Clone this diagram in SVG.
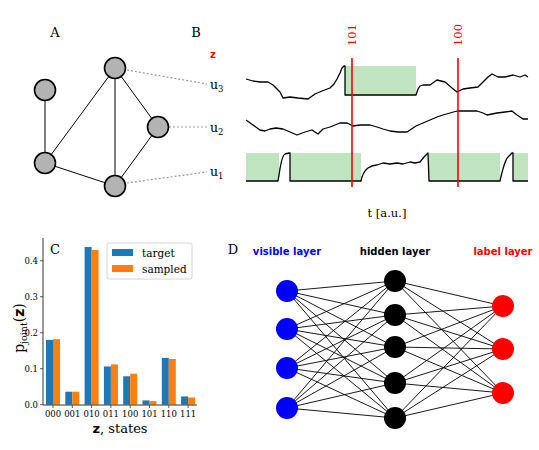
<svg xmlns="http://www.w3.org/2000/svg" width="539" height="450" viewBox="0 0 539 450">
<style>
.serif{font-family:"DejaVu Serif","Liberation Serif",serif;fill:#000}
.sans{font-family:"DejaVu Sans","Liberation Sans",sans-serif;font-weight:bold}
.gnode{fill:#b3b3b3;stroke:#000;stroke-width:1.6}
.edge{stroke:#000;stroke-width:1;fill:none}
.dash{stroke:#999;stroke-width:1.2;stroke-dasharray:2,2;fill:none}
.trace{stroke:#000;stroke-width:1.3;fill:none;stroke-linejoin:round}
.box{fill:#c0e3c0}
.red{stroke:#ff0000;stroke-width:1.6}
.blue{fill:#1f77b4}
.orange{fill:#ff7f0e}
.tick{font-size:8.5px}
</style>
<rect width="539" height="450" fill="#fff"/>

<!-- Panel A -->
<text class="serif" x="55" y="37" font-size="13" text-anchor="middle" fill="#000">A</text>
<g id="connectors">
  <line class="edge" x1="45" y1="90" x2="45" y2="163"/>
  <line class="edge" x1="45" y1="163" x2="115" y2="68"/>
  <line class="edge" x1="45" y1="163" x2="115" y2="186"/>
  <line class="edge" x1="115" y1="68" x2="115" y2="186"/>
  <line class="edge" x1="115" y1="68" x2="158" y2="127"/>
  <line class="edge" x1="158" y1="127" x2="115" y2="186"/>
  <line class="dash" x1="127" y1="70" x2="207" y2="84"/>
  <line class="dash" x1="169" y1="127" x2="207" y2="127"/>
  <line class="dash" x1="127" y1="183" x2="207" y2="172"/>
</g>
<g id="nodeA1"><circle class="gnode" cx="45" cy="90" r="10.5"/></g>
<g id="nodeA2"><circle class="gnode" cx="45" cy="163" r="10.5"/></g>
<g id="nodeA3"><circle class="gnode" cx="115" cy="68" r="10.5"/></g>
<g id="nodeA4"><circle class="gnode" cx="158" cy="127" r="10.5"/></g>
<g id="nodeA5"><circle class="gnode" cx="115" cy="186" r="10.5"/></g>

<!-- Panel B -->
<text class="serif" x="196" y="37" font-size="13" text-anchor="middle" fill="#000">B</text>
<text class="sans" x="213" y="58" font-size="10" fill="#ff0000" text-anchor="middle">z</text>
<text class="serif" x="210" y="89" font-size="12.5" fill="#000">u<tspan font-size="8.5" dy="3">3</tspan></text>
<text class="serif" x="210" y="132" font-size="12.5" fill="#000">u<tspan font-size="8.5" dy="3">2</tspan></text>
<text class="serif" x="210" y="176" font-size="12.5" fill="#000">u<tspan font-size="8.5" dy="3">1</tspan></text>

<g id="boxes">
  <rect class="box" x="345" y="66" width="71" height="29"/>
  <rect class="box" x="246" y="153" width="33" height="28"/>
  <rect class="box" x="290" y="153" width="71" height="28"/>
  <rect class="box" x="429" y="153" width="71" height="28"/>
  <rect class="box" x="513" y="153" width="15" height="28"/>
</g>
<g id="traces">
  <polyline class="trace" points="246,79 253,81 260,82 268,82 273,85 280,92 283,98 290,97 298,98 308,99 315,94 322,91 330,88 334,84 337,79 340,73 342,68 344,66 345,66 345,95 416,95 418,89 420,86 423,85 430,85 437,80 445,82 452,88 457,92 463,89 470,88 478,87 483,82 488,77 492,74 498,77 505,77 513,75 520,77 525,75 528,77"/>
  <polyline class="trace" points="246,120 253,125 260,130 265,131 270,129 276,128 283,129 290,132 297,135 305,132 312,130 318,134 323,129 330,127 340,123 347,123 353,126 360,125 370,125 377,127 383,129 390,131 398,132 407,132 410,130 416,126 423,123 430,120 437,117 443,115 450,113 457,111 467,111 477,111 483,113 487,115 492,114 497,113 505,112 512,111 517,115 523,119 528,119"/>
  <path class="trace" d="M246,181 H278 C280,170 281,156 285,154 L289,153 L290,153 L290,181 H361 C362,176 364,171 368,168 C371,166 374,165 377,165 L383,163 390,164 397,163 403,164 410,162 415,163 420,162 424,157 428,153 L429,181 H500 C502,172 505,160 508,157 L512,153 L513,153 L513,181 H528"/>
</g>
<line class="red" x1="352" y1="58" x2="352" y2="187"/>
<line class="red" x1="458" y1="58" x2="458" y2="187"/>
<text class="serif" transform="translate(356,46) rotate(-90)" font-size="11.5" fill="#ff0000" style="fill:#ff0000">101</text>
<text class="serif" transform="translate(462,46) rotate(-90)" font-size="11.5" style="fill:#ff0000">100</text>
<text class="serif" x="387" y="217" font-size="11.5" text-anchor="middle" fill="#000">t [a.u.]</text>

<!-- Panel C -->
<g id="chart">
  <rect class="blue" x="46" y="339.9" width="7" height="64.8"/>
  <rect class="orange" x="53" y="339.2" width="7" height="65.5"/>
  <rect class="blue" x="65.3" y="391.7" width="7" height="13"/>
  <rect class="orange" x="72.3" y="391.7" width="7" height="13"/>
  <rect class="blue" x="84.6" y="247" width="7" height="157.7"/>
  <rect class="orange" x="91.6" y="249.9" width="7" height="154.8"/>
  <rect class="blue" x="103.9" y="366.5" width="7" height="38.2"/>
  <rect class="orange" x="110.9" y="364.4" width="7" height="40.3"/>
  <rect class="blue" x="123.2" y="376.3" width="7" height="28.4"/>
  <rect class="orange" x="130.2" y="373.7" width="7" height="31"/>
  <rect class="blue" x="142.5" y="400.4" width="7" height="4.3"/>
  <rect class="orange" x="149.5" y="401.1" width="7" height="3.6"/>
  <rect class="blue" x="161.8" y="357.9" width="7" height="46.8"/>
  <rect class="orange" x="168.8" y="359" width="7" height="45.7"/>
  <rect class="blue" x="181.1" y="396.4" width="7" height="8.3"/>
  <rect class="orange" x="188.1" y="397.5" width="7" height="7.2"/>
  <path d="M43,238 V405 H197" stroke="#333" stroke-width="1" fill="none"/>
  <g stroke="#333" stroke-width="0.8">
    <line x1="40" y1="404.7" x2="43" y2="404.7"/>
    <line x1="40" y1="368.7" x2="43" y2="368.7"/>
    <line x1="40" y1="332.7" x2="43" y2="332.7"/>
    <line x1="40" y1="296.7" x2="43" y2="296.7"/>
    <line x1="40" y1="260.7" x2="43" y2="260.7"/>
    <line x1="53" y1="405" x2="53" y2="408"/>
    <line x1="72.3" y1="405" x2="72.3" y2="408"/>
    <line x1="91.6" y1="405" x2="91.6" y2="408"/>
    <line x1="110.9" y1="405" x2="110.9" y2="408"/>
    <line x1="130.2" y1="405" x2="130.2" y2="408"/>
    <line x1="149.5" y1="405" x2="149.5" y2="408"/>
    <line x1="168.8" y1="405" x2="168.8" y2="408"/>
    <line x1="188.1" y1="405" x2="188.1" y2="408"/>
  </g>
  <g class="serif tick" text-anchor="end" fill="#000">
    <text x="38" y="407.7">0.0</text>
    <text x="38" y="371.7">0.1</text>
    <text x="38" y="335.7">0.2</text>
    <text x="38" y="299.7">0.3</text>
    <text x="38" y="263.7">0.4</text>
  </g>
  <g class="serif tick" text-anchor="middle" fill="#000">
    <text x="53" y="417">000</text>
    <text x="72.3" y="417">001</text>
    <text x="91.6" y="417">010</text>
    <text x="110.9" y="417">011</text>
    <text x="130.2" y="417">100</text>
    <text x="149.5" y="417">101</text>
    <text x="168.8" y="417">110</text>
    <text x="188.1" y="417">111</text>
  </g>
  <text class="serif" x="120" y="433" font-size="13" text-anchor="middle" fill="#000"><tspan class="sans">z</tspan>, states</text>
  <g transform="translate(24,328) rotate(-90)">
    <text class="serif" x="0" y="0" font-size="14" text-anchor="middle" fill="#000">p<tspan font-size="9.5" dy="3">joint</tspan><tspan dy="-3">(</tspan><tspan class="sans">z</tspan>)</text>
  </g>
  <rect x="107" y="243" width="85" height="36" rx="2" fill="#fff" fill-opacity="0.8" stroke="#ccc" stroke-width="0.8"/>
  <rect class="blue" x="112" y="249" width="21" height="7"/>
  <rect class="orange" x="112" y="265" width="21" height="7"/>
  <text class="serif" x="142" y="256.5" font-size="10.5" fill="#000">target</text>
  <text class="serif" x="142" y="272.5" font-size="10.5" fill="#000">sampled</text>
</g>
<text class="serif" x="55" y="254" font-size="13" text-anchor="middle" fill="#000">C</text>

<!-- Panel D -->
<text class="serif" x="233" y="254" font-size="13" text-anchor="middle" fill="#000">D</text>
<text class="sans" x="287" y="255" font-size="10" fill="#0000ff" text-anchor="middle">visible layer</text>
<text class="sans" x="395" y="255" font-size="10" fill="#000" text-anchor="middle">hidden layer</text>
<text class="sans" x="503" y="255" font-size="10" fill="#ff0000" text-anchor="middle">label layer</text>
<g id="nnlinks" stroke="#000" stroke-width="0.9">
  <path d="M287,291 L395,281 M287,291 L395,315 M287,291 L395,347 M287,291 L395,383 M287,291 L395,418
  M287,329 L395,281 M287,329 L395,315 M287,329 L395,347 M287,329 L395,383 M287,329 L395,418
  M287,368 L395,281 M287,368 L395,315 M287,368 L395,347 M287,368 L395,383 M287,368 L395,418
  M287,408 L395,281 M287,408 L395,315 M287,408 L395,347 M287,408 L395,383 M287,408 L395,418
  M395,281 L503,306 M395,281 L503,349 M395,281 L503,393
  M395,315 L503,306 M395,315 L503,349 M395,315 L503,393
  M395,347 L503,306 M395,347 L503,349 M395,347 L503,393
  M395,383 L503,306 M395,383 L503,349 M395,383 L503,393
  M395,418 L503,306 M395,418 L503,349 M395,418 L503,393"/>
</g>
<g id="v1"><circle cx="287" cy="291" r="11" fill="#0000ff"/></g>
<g id="v2"><circle cx="287" cy="329" r="11" fill="#0000ff"/></g>
<g id="v3"><circle cx="287" cy="368" r="11" fill="#0000ff"/></g>
<g id="v4"><circle cx="287" cy="408" r="11" fill="#0000ff"/></g>
<g id="h1"><circle cx="395" cy="281" r="11" fill="#000"/></g>
<g id="h2"><circle cx="395" cy="315" r="11" fill="#000"/></g>
<g id="h3"><circle cx="395" cy="347" r="11" fill="#000"/></g>
<g id="h4"><circle cx="395" cy="383" r="11" fill="#000"/></g>
<g id="h5"><circle cx="395" cy="418" r="11" fill="#000"/></g>
<g id="l1"><circle cx="503" cy="306" r="11" fill="#ff0000"/></g>
<g id="l2"><circle cx="503" cy="349" r="11" fill="#ff0000"/></g>
<g id="l3"><circle cx="503" cy="393" r="11" fill="#ff0000"/></g>
</svg>
